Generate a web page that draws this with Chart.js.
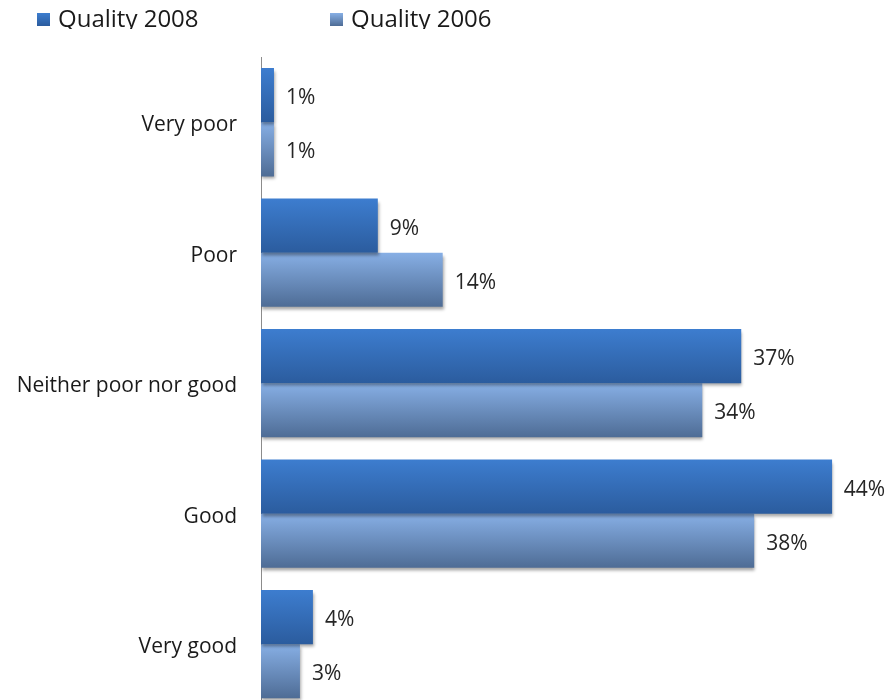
<!DOCTYPE html>
<html lang="en">
<head>
    <meta charset="UTF-8">
    <title>Quality 2008 vs 2006</title>
    <script src="https://cdn.jsdelivr.net/npm/chart.js"></script>
    <style>
        html, body {
            margin: 0;
            padding: 0;
            background: #ffffff;
            overflow: hidden;
            font-family: 'Open Sans', sans-serif;
        }
        .wrap {
            position: relative;
            width: 889px;
            height: 738px;
        }
        /* legend is plain html on top of the canvas */
        .legend-item {
            position: absolute;
            top: 2px;
            height: 27px;
            overflow: hidden;   /* the descender is cut off like in the original */
            font-size: 24px;
            line-height: 32px;
            color: #1a1a1a;
            white-space: nowrap;
        }
        .legend-item .box {
            display: inline-block;
            width: 13px;
            height: 13px;
            margin-right: 8px;
            vertical-align: 1px;
        }
    </style>
</head>
<body>

<div class="wrap">
    <canvas id="qualityChart" width="889" height="738"></canvas>
    <div class="legend-item" style="left:37px"><span class="box" style="background:linear-gradient(#3d7dcf,#2b5c9e)"></span><span class="lbl"></span></div>
    <div class="legend-item" style="left:330px"><span class="box" style="background:linear-gradient(#87afe5,#4e6c95)"></span><span class="lbl"></span></div>
</div>

<script>
    // data
    const categories = ['Very poor', 'Poor', 'Neither poor nor good', 'Good', 'Very good'];
    const seriesNames = ['Quality 2008', 'Quality 2006'];
    const quality2008 = [1, 9, 37, 44, 4];
    const quality2006 = [1, 14, 34, 38, 3];

    const catPct = 0.83;

    // legend text
    document.querySelectorAll('.legend-item .lbl').forEach((el, i) => {
        el.textContent = seriesNames[i];
    });

    // vertical gradient for each bar, worked out from the y scale
    function barGradient(top, bottom, before) {
        return function (ctx) {
            const chart = ctx.chart;
            const y = chart.scales.y;
            if (!chart.chartArea || !y) return top;
            const center = y.getPixelForValue(ctx.dataIndex);
            const step = Math.abs(y.getPixelForValue(1) - y.getPixelForValue(0));
            const half = step * catPct / 2;
            const y0 = before ? center - half : center;
            const y1 = before ? center : center + half;
            const g = chart.ctx.createLinearGradient(0, y0, 0, y1);
            g.addColorStop(0, top);
            g.addColorStop(1, bottom);
            return g;
        };
    }

    const labelPlugin = {
        id: 'barLabels',
        beforeDatasetsDraw(chart) {
            const c = chart.ctx;
            c.save();
            c.shadowColor = 'rgba(0,0,0,0.35)';
            c.shadowOffsetX = 1;
            c.shadowOffsetY = 3;
            c.shadowBlur = 3;
        },
        afterDatasetsDraw(chart) {
            const c = chart.ctx;
            c.restore();
            c.save();
            c.font = '21px "Open Sans", sans-serif';
            c.fillStyle = '#262626';
            c.textBaseline = 'middle';
            chart.data.datasets.forEach((ds, di) => {
                const meta = chart.getDatasetMeta(di);
                meta.data.forEach((bar, i) => {
                    const txt = ds.data[i] + '%';
                    const w = c.measureText(txt).width;
                    let x = bar.x + 12;
                    if (x + w > chart.width - 4) x = chart.width - 4 - w;
                    c.fillText(txt, x, bar.y + 3);
                });
            });
            c.restore();
        }
    };

    new Chart(document.getElementById('qualityChart'), {
        type: 'bar',
        data: {
            labels: categories,
            datasets: [
                {
                    label: seriesNames[0],
                    data: quality2008,
                    backgroundColor: barGradient('#3d7dcf', '#2b5c9e', true),
                    barPercentage: 1,
                    categoryPercentage: catPct
                },
                {
                    label: seriesNames[1],
                    data: quality2006,
                    backgroundColor: barGradient('#87afe5', '#4e6c95', false),
                    barPercentage: 1,
                    categoryPercentage: catPct
                }
            ]
        },
        options: {
            indexAxis: 'y',
            responsive: false,
            animation: false,
            layout: {
                padding: { top: 57, right: 5, bottom: 0, left: 0 }
            },
            plugins: {
                legend: { display: false },
                tooltip: { enabled: false }
            },
            scales: {
                x: {
                    display: false,
                    min: 0,
                    max: 48
                },
                y: {
                    grid: { display: false },
                    border: { display: true, color: '#8c8c8c', width: 1 },
                    ticks: {
                        color: '#1a1a1a',
                        padding: 16,
                        labelOffset: 3,
                        font: { family: 'Open Sans', size: 21 }
                    },
                    afterFit(scale) {
                        scale.width = 261;
                    }
                }
            }
        },
        plugins: [labelPlugin]
    });
</script>
</body>
</html>
